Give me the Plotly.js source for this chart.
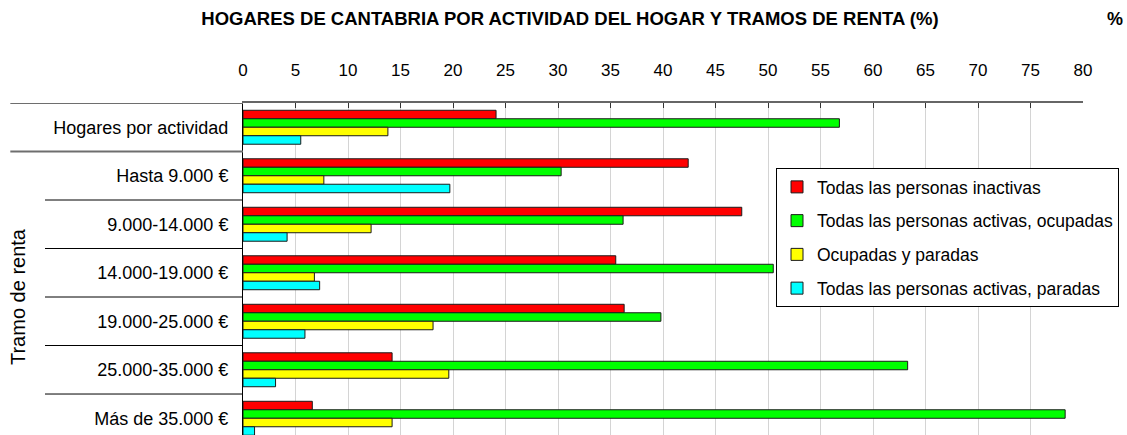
<!DOCTYPE html>
<html>
<head>
<meta charset="utf-8">
<script src="https://cdn.plot.ly/plotly-3.0.1.min.js"></script>
<style>html,body{margin:0;padding:0;background:#fff;}#chart{width:1127px;height:435px;}</style>
</head>
<body>
<div id="chart"></div>
<script>
const categories = ["Hogares por actividad", "Hasta 9.000 €", "9.000-14.000 €", "14.000-19.000 €", "19.000-25.000 €", "25.000-35.000 €", "Más de 35.000 €"];
const seriesNames = ["Todas las personas inactivas", "Todas las personas activas, ocupadas", "Ocupadas y paradas", "Todas las personas activas, paradas"];
const inactivas = [24.1, 42.4, 47.5, 35.5, 36.3, 14.2, 6.6];
const activasOcupadas = [56.8, 30.3, 36.2, 50.5, 39.8, 63.3, 78.3];
const ocupadasParadas = [13.8, 7.7, 12.2, 6.8, 18.1, 19.6, 14.2];
const activasParadas = [5.5, 19.7, 4.2, 7.3, 5.9, 3.1, 1.1];
const xTicks = [0, 5, 10, 15, 20, 25, 30, 35, 40, 45, 50, 55, 60, 65, 70, 75, 80];

const colors = ["#FF0000", "#00FF00", "#FFFF00", "#00FFFF"];
const values = [inactivas, activasOcupadas, ocupadasParadas, activasParadas];
const regular = "Liberation Sans, Arial, sans-serif";

const traces = values.map((v, i) => ({
  type: "bar",
  orientation: "h",
  name: seriesNames[i],
  y: categories,
  x: v,
  legendgroup: "g" + i,
  marker: {color: colors[i], line: {color: "#1a1a1a", width: 1}},
  hoverinfo: "x+name"
}));

const sepShapes = [];
[-0.5, 0.5].forEach(b => sepShapes.push({type: "line", xref: "paper", yref: "y", x0: -0.277, x1: 0, y0: b, y1: b, line: {color: "#6e6e6e", width: 2}}));
[1.5, 2.5, 3.5, 4.5, 5.5].forEach(b => sepShapes.push({type: "line", xref: "paper", yref: "y", x0: -0.2357, x1: 0, y0: b, y1: b, line: {color: "#000", width: 1}}));

const layout = {
  width: 1127, height: 435,
  margin: {l: 243, r: 44, t: 103, b: 0, pad: 0},
  paper_bgcolor: "#fff", plot_bgcolor: "#fff",
  barmode: "group", bargap: 0.3, bargroupgap: 0,
  title: {text: "HOGARES DE CANTABRIA POR ACTIVIDAD DEL HOGAR Y TRAMOS DE RENTA (%)", font: {family: regular, size: 18.5, color: "#000", weight: "bold"}, x: 570/1127, xref: "container", xanchor: "center", y: 1 - 19/435, yref: "container", yanchor: "middle"},
  xaxis: {
    side: "top", range: [0, 80], tickvals: xTicks, ticktext: xTicks.map(String),
    ticks: "inside", ticklen: 5, tickcolor: "#333", tickwidth: 1,
    showgrid: true, gridcolor: "#d4d4d4", gridwidth: 1,
    showline: true, linecolor: "#666", linewidth: 2,
    zeroline: false, ticklabelstandoff: 18,
    tickfont: {family: regular, size: 17, color: "#000"}, fixedrange: true
  },
  yaxis: {
    type: "category", categoryorder: "array", categoryarray: categories,
    range: [6.345, -0.5], ticks: "", showgrid: false, zeroline: false,
    showline: true, linecolor: "#000", linewidth: 1,
    ticklabelstandoff: 10,
    tickfont: {family: regular, size: 18, color: "#000"}, fixedrange: true
  },
  legend: {
    x: (776 - 243) / 840, xanchor: "left", y: (435 - 168) / 332, yanchor: "top",
    bgcolor: "#fff", bordercolor: "#000", borderwidth: 1,
    font: {family: regular, size: 17.5, color: "#000"},
    tracegroupgap: 8, traceorder: "grouped"
  },
  shapes: sepShapes,
  annotations: [
    {text: "Tramo de renta", xref: "paper", yref: "y", x: (18 - 243) / 840, y: 3.5, textangle: -90, showarrow: false, font: {family: regular, size: 20, color: "#000"}, xanchor: "center", yanchor: "middle"},
    {text: "<b>%</b>", xref: "paper", yref: "paper", x: (1115 - 243) / 840, y: (435 - 19) / 332, showarrow: false, font: {family: regular, size: 18, color: "#000"}, xanchor: "center", yanchor: "middle"}
  ],
  showlegend: true
};

Plotly.newPlot("chart", traces, layout, {displayModeBar: false, staticPlot: true});
</script>
</body>
</html>
